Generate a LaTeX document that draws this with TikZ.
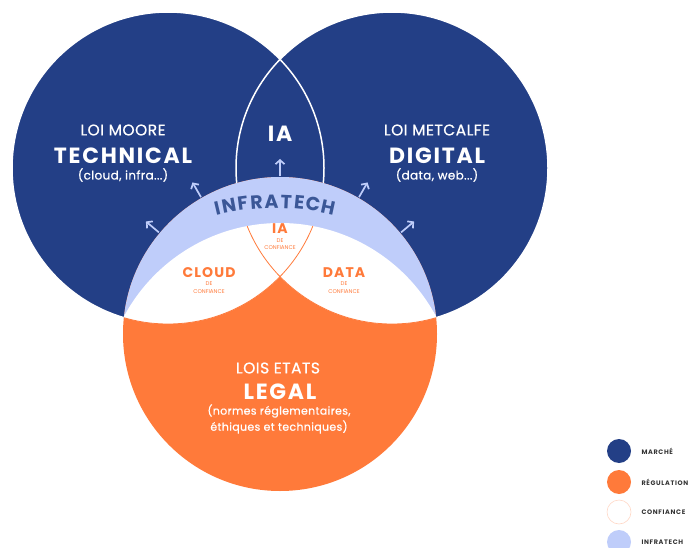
\documentclass[tikz,border=0pt]{standalone}
\usepackage{fontspec}
\setmainfont{Poppins}
\newfontfamily\ttlfont[LetterSpace=8]{Poppins}
\newfontfamily\subfont[LetterSpace=3,FakeBold=0.6]{Poppins}
\newfontfamily\legfont[LetterSpace=10]{Poppins}
\usetikzlibrary{calc,arrows.meta}
\definecolor{navy}{HTML}{233F86}
\definecolor{orng}{HTML}{FF7A3A}
\definecolor{lblue}{HTML}{BFCDFA}
\definecolor{itext}{HTML}{3B5797}
\definecolor{pale}{HTML}{FFD8C6}
\definecolor{legtext}{HTML}{333333}
\begin{document}
\begin{tikzpicture}[x=1pt,y=-1pt,
  sub/.style={text=white,font=\subfont\fontsize{15.5}{17}\selectfont},
  big/.style={text=white,font=\ttlfont\bfseries\fontsize{22}{24}\selectfont},
  paren/.style={text=white,font=\subfont\fontsize{12}{14}\selectfont},
  lparen/.style={text=white,font=\subfont\fontsize{11}{13}\selectfont},
  obig/.style={text=orng,font=\ttlfont\bfseries\fontsize{14}{16}\selectfont},
  osmall/.style={text=orng,font=\fontsize{5.5}{6.5}\selectfont,inner sep=0pt},
  itx/.style={text=itext,font=\ttlfont\bfseries\fontsize{19}{20}\selectfont,inner sep=0pt},
  leg/.style={text=legtext,font=\legfont\bfseries\fontsize{6.5}{8}\selectfont,anchor=west},
  arr/.style={lblue,line width=1.7pt,-{Straight Barb[length=4pt,width=9pt]}}]
\useasboundingbox (0,0) rectangle (693,548);
\def\Rlr{156pt}\def\Rbot{157pt}\def\Rin{177pt}
\coordinate (lc) at (168,168);
\coordinate (rc) at (392,168);
\coordinate (bc) at (280,334);
\coordinate (ic) at (280,400);
\coordinate (ac) at (275,452);
% blue circles
\fill[navy] (lc) circle[radius=\Rlr];
\fill[navy] (rc) circle[radius=\Rlr];
\draw[white,line width=1.5pt] (lc) circle[radius=\Rlr] (rc) circle[radius=\Rlr];
% orange circle
\fill[orng] (bc) circle[radius=\Rbot];
\begin{scope}
  \clip (bc) circle[radius=\Rbot];
  \fill[lblue] (lc) circle[radius=\Rlr] (rc) circle[radius=\Rlr];
  \clip (ic) circle[radius=\Rin];
  \fill[white] (lc) circle[radius=\Rlr] (rc) circle[radius=\Rlr];
  \draw[orng,line width=0.8pt] (lc) circle[radius=\Rlr] (rc) circle[radius=\Rlr];
\end{scope}
% arrows
\foreach \a in {40,60,90,120,140}
  \draw[arr] ($(bc)+(\a:158pt)$) -- ($(bc)+(\a:175pt)$);
% INFRATECH along arc
\foreach \l/\a in {I/103.3,N/100.6,F/97.4,R/94.2,A/90.8,T/87.4,E/84.4,C/81.3,H/77.8}
  \node[itx,anchor=base,rotate=\a-90] (inf\l) at ($(ac)+(\a:244pt)$) {\l};
% texts
\node[sub] (moore) at (123,130) {LOI MOORE};
\node[big] (tech) at (123,156) {TECHNICAL};
\node[paren] (cloudp) at (123,175) {(cloud, infra...)};
\node[sub] (metc) at (437,130) {LOI METCALFE};
\node[big] (digi) at (437,156) {DIGITAL};
\node[paren] (datap) at (437,175) {(data, web...)};
\node[big] (ia) at (280,134) {IA};
\node[sub] (etats) at (278,368) {LOIS ETATS};
\node[big] (legal) at (280,392) {LEGAL};
\node[lparen] (norm1) at (279,411) {(normes réglementaires,};
\node[lparen] (norm2) at (279,427) {éthiques et techniques)};
\node[obig] (iac) at (280,229) {IA};
\node[osmall] (iade) at (280,241) {DE};
\node[osmall] (iaconf) at (280,248) {CONFIANCE};
\node[obig] (cloud) at (209,273) {CLOUD};
\node[osmall] (clde) at (209,284) {DE};
\node[osmall] (clconf) at (209,292) {CONFIANCE};
\node[obig] (data) at (344,273) {DATA};
\node[osmall] (dade) at (344,284) {DE};
\node[osmall] (daconf) at (344,292) {CONFIANCE};
% legend
\fill[navy] (619,451) circle[radius=12pt];
\fill[orng] (619,482) circle[radius=12pt];
\draw[pale,fill=white,line width=0.6pt] (619,512) circle[radius=12pt];
\fill[lblue] (619,542) circle[radius=12pt];
\node[leg] (l1) at (638,451) {MARCHÉ};
\node[leg] (l2) at (638,482) {RÉGULATION};
\node[leg] (l3) at (638,512) {CONFIANCE};
\node[leg] (l4) at (638,542) {INFRATECH};
\end{tikzpicture}
\end{document}
